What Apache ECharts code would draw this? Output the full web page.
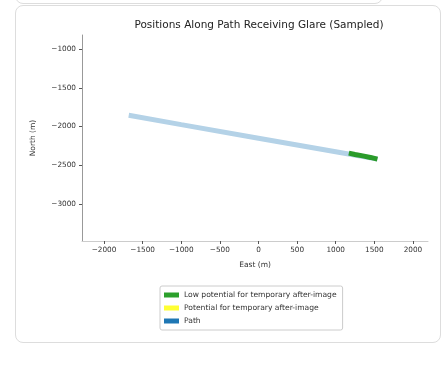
<!DOCTYPE html>
<html><head><meta charset="utf-8">
<script src="https://cdn.jsdelivr.net/npm/echarts@6/dist/echarts.min.js"></script>
<style>
html,body{margin:0;padding:0;background:#fff;width:446px;height:365px;overflow:hidden;}
#prev{position:absolute;left:15px;top:-20px;width:366px;height:22px;border:1px solid #ddd;border-radius:8px;}
#card{position:absolute;left:15px;top:5px;width:424px;height:336px;border:1px solid #ddd;border-radius:8px;}
#chart{position:absolute;left:0;top:0;width:446px;height:365px;}
</style></head>
<body>
<div id="prev"></div>
<div id="card"></div>
<div id="chart"></div>
<script>
const pathEast = [-1680, -1000, 0, 1000, 1540];
const pathNorth = [-1855, -1975, -2150, -2325, -2420];
const glareEast = [1170, 1250, 1350, 1450, 1540];
const glareNorth = [-2342, -2360, -2378, -2398, -2420];
const xTicks = [-2000, -1500, -1000, -500, 0, 500, 1000, 1500, 2000];
const yTicks = [-3000, -2500, -2000, -1500, -1000];
const seriesNames = ['Low potential for temporary after-image', 'Potential for temporary after-image', 'Path'];

const fmt = v => String(v).replace('-', '\u2212');
const font = 'DejaVu Sans';
const chart = echarts.init(document.getElementById('chart'));
chart.setOption({
  animation: false,
  textStyle: {fontFamily: font},
  title: {text: 'Positions Along Path Receiving Glare (Sampled)', left: 254, top: 15, textAlign: 'center',
    textStyle: {fontFamily: font, fontSize: 10.5, fontWeight: 'normal', color: '#222'}},
  grid: {left: 82, top: 35, right: 18, bottom: 124},
  xAxis: {type: 'value', min: -2285, max: 2195, name: 'East (m)', nameLocation: 'middle', nameGap: 20,
    nameTextStyle: {fontSize: 7.5, color: '#333'},
    splitLine: {show: false},
    axisLine: {show: true, onZero: false, lineStyle: {color: '#ccc', width: 1}},
    axisTick: {show: true, length: 3, lineStyle: {color: '#555'}, customValues: xTicks},
    axisLabel: {fontSize: 7.3, color: '#333', margin: 6, formatter: fmt, customValues: xTicks}},
  yAxis: {type: 'value', min: -3475, max: -820, name: 'North (m)', nameLocation: 'middle', nameGap: 45,
    nameTextStyle: {fontSize: 7.5, color: '#333'},
    splitLine: {show: false},
    axisLine: {show: true, onZero: false, lineStyle: {color: '#999', width: 1}},
    axisTick: {show: true, length: 3, lineStyle: {color: '#555'}, customValues: yTicks},
    axisLabel: {fontSize: 7.3, color: '#333', margin: 6, formatter: fmt, customValues: yTicks}},
  legend: {orient: 'vertical', left: 160, top: 286, itemWidth: 15, itemHeight: 5, itemGap: 5,
    borderColor: '#ccc', borderWidth: 1, borderRadius: 2, padding: [5, 6, 5, 4],
    textStyle: {fontSize: 7.6, color: '#333', fontFamily: font},
    data: [
      {name: seriesNames[0], icon: 'rect', itemStyle: {color: '#2ca02c'}},
      {name: seriesNames[1], icon: 'rect', itemStyle: {color: '#ffff33'}},
      {name: seriesNames[2], icon: 'rect', itemStyle: {color: '#1f77b4'}}
    ]},
  series: [
    {name: seriesNames[2], type: 'line', z: 1, showSymbol: false, symbol: 'none',
      data: pathEast.map((e, i) => [e, pathNorth[i]]),
      itemStyle: {color: '#1f77b4'}, lineStyle: {color: '#b4d2e7', width: 5}},
    {name: seriesNames[0], type: 'line', z: 3, showSymbol: false, symbol: 'none',
      data: glareEast.map((e, i) => [e, glareNorth[i]]),
      itemStyle: {color: '#2ca02c'}, lineStyle: {color: '#2a9b2a', width: 5}},
    {name: seriesNames[1], type: 'line', z: 2, showSymbol: false, data: [],
      itemStyle: {color: '#ffff33'}}
  ]
});
</script>
</body></html>
